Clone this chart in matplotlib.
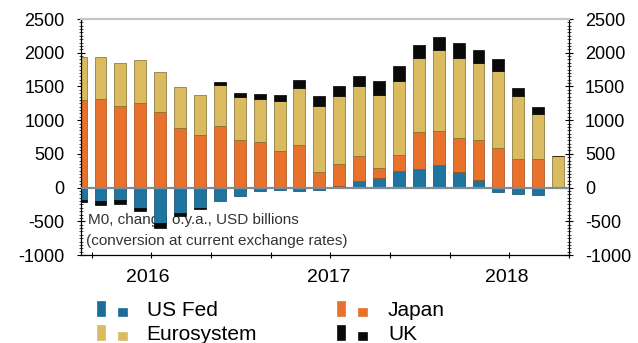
import matplotlib
matplotlib.use("Agg")
import matplotlib.pyplot as plt
from matplotlib.patches import Rectangle
from matplotlib.ticker import MultipleLocator
import numpy as np

plt.rcParams['font.family'] = ['Liberation Sans', 'DejaVu Sans']
plt.rcParams['axes.unicode_minus'] = False

# M0 change o.y.a., USD billions, one bar per period
us_fed = [-180, -200, -180, -300, -520, -370, -300, -200, -120, -50, -40, -50, -40,
          20, 104, 143, 242, 281, 330, 232, 118, -60, -90, -110, 0]
japan = [1300, 1316, 1203, 1252, 1119, 883, 784, 907, 700, 676, 547, 636, 227,
         330, 369, 148, 246, 542, 513, 503, 582, 587, 424, 424, 0]
eurosystem = [640, 626, 641, 641, 592, 606, 587, 616, 636, 640, 740, 848, 986,
              1001, 1026, 1084, 1094, 1104, 1198, 1192, 1153, 1148, 927, 666, 463]
uk = [-30, -65, -60, -50, -75, -55, -25, 50, 64, 74, 88, 113, 138,
      162, 162, 207, 222, 188, 187, 213, 188, 173, 123, 98, 0]

series = [("US Fed", us_fed, "#1f74a0", "#0e4866"),
          ("Japan", japan, "#e8722c", "#a34a14"),
          ("Eurosystem", eurosystem, "#dbbb5f", "#7d6b2e"),
          ("UK", uk, "#0a0a0a", "#000000")]

year_labels = ["2016", "2017", "2018"]
year_pos = [3.4, 12.45, 21.4]

W, H = 638, 343
fig = plt.figure(figsize=(W / 100, H / 100), dpi=100)
ax = fig.add_axes([80.6 / W, 88 / H, 488.4 / W, 236 / H])

x = np.arange(len(eurosystem))
pos_bottom = np.zeros(len(x))
neg_bottom = np.zeros(len(x))
for name, vals, col, edge in series:
    vals = np.array(vals, dtype=float)
    bottom = np.where(vals >= 0, pos_bottom, neg_bottom)
    ax.bar(x, vals, width=0.6, bottom=bottom, color=col, edgecolor=edge,
           linewidth=0.5, zorder=2)
    pos_bottom = pos_bottom + np.where(vals >= 0, vals, 0)
    neg_bottom = neg_bottom + np.where(vals < 0, vals, 0)

ax.axhline(0, color="#7f8c98", lw=1.6, zorder=3)

ax.set_xlim(0, 24.55)
ax.set_ylim(-1000, 2500)
ax.set_yticks(np.arange(-1000, 2501, 500))
ax.yaxis.set_minor_locator(MultipleLocator(50))
ax.set_xticks(0.55 + 3 * np.arange(9))
ax.set_xticklabels([])
ax.tick_params(axis="y", which="major", direction="inout", length=6, width=0.8,
               left=True, right=True, labelleft=True, labelright=True,
               labelsize=13, pad=8.5)
ax.tick_params(axis="y", which="minor", direction="inout", length=3, width=0.5,
               left=True, right=True)
ax.tick_params(axis="x", direction="inout", length=4, width=0.8)

for s in ["left", "right", "bottom"]:
    ax.spines[s].set_linewidth(0.9)
ax.spines["top"].set_color("#c4c4c4")
ax.spines["top"].set_linewidth(1.6)

# year labels below the axis
year_y = -1000 - 22.3 / 0.0674
for lab, p in zip(year_labels, year_pos):
    ax.text(p, year_y, lab, ha="center", va="center", fontsize=14,
            clip_on=False)

ax.text(0.37, -481, "M0, change o.y.a., USD billions", fontsize=11,
        va="center", ha="left", color="#333333", zorder=1)
ax.text(0.25, -792, "(conversion at current exchange rates)", fontsize=11,
        va="center", ha="left", color="#333333", zorder=1)


def add_rect(x0, y0, w, h, col):
    fig.patches.append(Rectangle((x0 / W, 1 - (y0 + h) / H), w / W, h / H,
                                 transform=fig.transFigure, facecolor=col,
                                 edgecolor=col, linewidth=0.5))


legend_items = [("US Fed", "#1c6c98", 96.7, 301, 146.7),
                ("Eurosystem", "#dbbb5f", 96.7, 325, 146.7),
                ("Japan", "#e8722c", 336.7, 301, 388),
                ("UK", "#0a0a0a", 336.7, 325, 388)]
for name, col, lx, ly, tx in legend_items:
    add_rect(lx, ly, 8.3, 15, col)
    add_rect(lx + 21.3, ly + 7, 9, 8, col)
    fig.text(tx / W, 1 - (ly + 15) / H, name, fontsize=15, va="baseline",
             ha="left")

fig.savefig("out.png", dpi=100)
